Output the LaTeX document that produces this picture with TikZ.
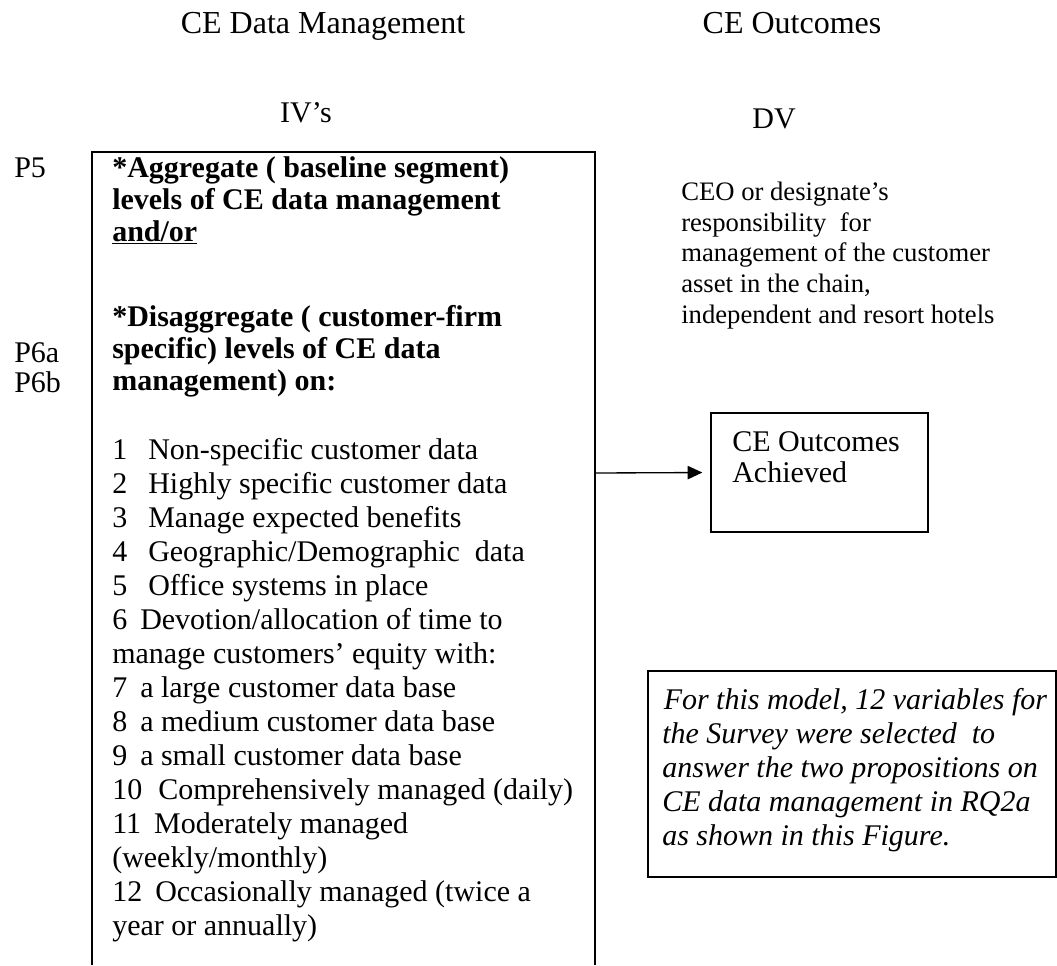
\documentclass[tikz,border=0pt]{standalone}
\usepackage{fontspec}
\setmainfont{Liberation Serif}
\usetikzlibrary{arrows.meta}
\begin{document}
\begin{tikzpicture}[x=0.75pt,y=-0.75pt,
  txt/.style={anchor=base west,inner sep=0pt,font=\fontsize{22.5}{27}\selectfont},
  btxt/.style={anchor=base west,inner sep=0pt,font=\fontsize{22.5}{27}\selectfont\bfseries},
  itxt/.style={anchor=base west,inner sep=0pt,font=\fontsize{22.5}{27}\selectfont\itshape},
  stxt/.style={anchor=base west,inner sep=0pt,font=\fontsize{20}{23}\selectfont},
  ttl/.style={anchor=base,inner sep=0pt,font=\fontsize{24}{28}\selectfont},
  frame/.style={draw,line width=1pt},
  arr/.style={line width=1pt,-{Triangle[length=11pt,width=10pt]}}]
\useasboundingbox (0,0) rectangle (1057,965);
% headings
\node[ttl] (t1) at (323,33) {CE Data Management};
\node[ttl] (t2) at (792,33) {CE Outcomes};
\node[ttl,font=\fontsize{22.5}{27}\selectfont] (iv) at (306,122) {IV’s};
\node[ttl,font=\fontsize{22.5}{27}\selectfont] (dv) at (774,128) {DV};
% proposition labels
\node[txt] (p5) at (14,177) {P5};
\node[txt] (p6a) at (14,362) {P6a};
\node[txt] (p6b) at (14,392) {P6b};
% main box (open at the bottom)
\draw[frame] (92,965) -- (92,152) -- (595,152) -- (595,965);
\node[btxt] (b1) at (112,177) {*Aggregate ( baseline segment)};
\node[btxt] (b2) at (112,209) {levels of CE data management};
\node[btxt] (b3) at (112,241) {\underline{and/or}};
\node[btxt] (b4) at (112,326) {*Disaggregate ( customer-firm};
\node[btxt] (b5) at (112,358) {specific) levels of CE data};
\node[btxt] (b6) at (112,390) {management) on:};
\node[txt] (l1) at (112,459) {1\hspace{15.75pt}Non-specific customer data};
\node[txt] (l2) at (112,493) {2\hspace{15.75pt}Highly specific customer data};
\node[txt] (l3) at (112,527) {3\hspace{15.75pt}Manage expected benefits};
\node[txt] (l4) at (112,561) {4\hspace{15.75pt}Geographic/Demographic\ \ data};
\node[txt] (l5) at (112,595) {5\hspace{15.75pt}Office systems in place};
\node[txt] (l6) at (112,629) {6\hspace{9.75pt}Devotion/allocation of time to};
\node[txt] (l6b) at (112,663) {manage customers’ equity with:};
\node[txt] (l7) at (112,697) {7\hspace{9.75pt}a large customer data base};
\node[txt] (l8) at (112,731) {8\hspace{9.75pt}a medium customer data base};
\node[txt] (l9) at (112,765) {9\hspace{9.75pt}a small customer data base};
\node[txt] (l10) at (112,799) {10\hspace{12pt}Comprehensively managed (daily)};
\node[txt] (l11) at (112,833) {11\hspace{9.75pt}Moderately managed};
\node[txt] (l11b) at (112,867) {(weekly/monthly)};
\node[txt] (l12) at (112,901) {12\hspace{9.75pt}Occasionally managed (twice a};
\node[txt] (l12b) at (112,935) {year or annually)};
% DV description
\node[stxt] (r1) at (681,200) {CEO or designate’s};
\node[stxt] (r2) at (681,231) {responsibility\ \ for};
\node[stxt] (r3) at (681,261) {management of the customer};
\node[stxt] (r4) at (681,292) {asset in the chain,};
\node[stxt] (r5) at (681,323) {independent and resort hotels};
% outcome box
\node[frame,minimum width=162.75pt,minimum height=89.25pt,inner sep=0pt] (ob) at (819.5,472.5) {};
\node[txt] (o1) at (732,451) {CE Outcomes};
\node[txt] (o2) at (732,482) {Achieved};
\coordinate (mr) at (595,473);
\draw[arr,shorten >=6pt] (mr) -- (ob.west);
% note box
\node[frame,minimum width=306pt,minimum height=154.5pt,inner sep=0pt] (ib) at (852,774) {};
\node[itxt] (n1) at (656,709) {\ For this model, 12 variables for};
\node[itxt] (n2) at (662,743) {the Survey were selected\ \ to};
\node[itxt] (n3) at (662,777) {answer the two propositions on};
\node[itxt] (n4) at (662,811) {CE data management in RQ2a};
\node[itxt] (n5) at (662,845) {as shown in this Figure.};
\end{tikzpicture}
\end{document}
